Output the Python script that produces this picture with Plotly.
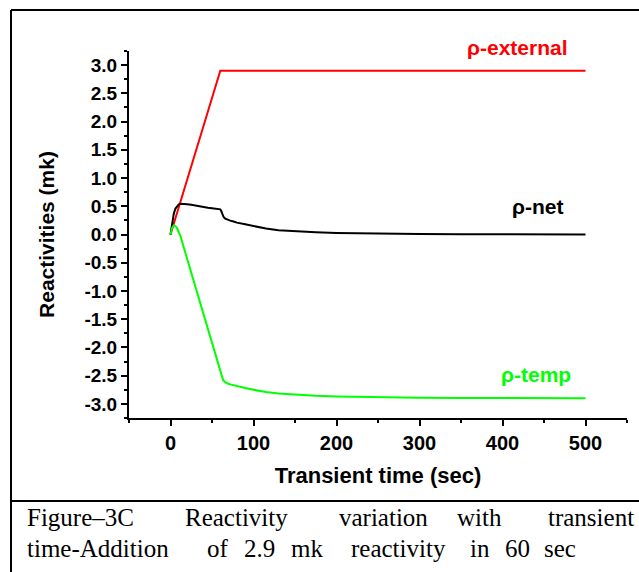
import numpy as np
import plotly.graph_objects as go

# ---------------- data ----------------
t_external = [0, 60, 500]
rho_external = [0.0, 2.9, 2.9]

t_sim = [0, 2, 4, 6, 8, 10, 12, 16, 20, 25,
         30, 35, 40, 45, 50, 55, 60, 61, 62, 63,
         64, 66, 68, 72, 76, 80, 90, 100, 115, 130,
         150, 175, 200, 250, 300, 350, 400, 450, 500]
rho_net = [0.0, 0.22, 0.37, 0.46, 0.51, 0.535, 0.545, 0.545, 0.535, 0.525,
           0.51, 0.50, 0.49, 0.475, 0.465, 0.455, 0.445, 0.42, 0.38, 0.34,
           0.31, 0.28, 0.265, 0.245, 0.23, 0.21, 0.18, 0.15, 0.105, 0.075,
           0.055, 0.04, 0.028, 0.015, 0.008, 0.005, 0.003, 0.002, 0.001]
rho_temp = [0.0, 0.12, 0.16, 0.15, 0.11, 0.05, -0.03, -0.23, -0.43, -0.68,
            -0.93, -1.18, -1.43, -1.69, -1.94, -2.19, -2.44, -2.48, -2.52, -2.56,
            -2.59, -2.62, -2.635, -2.655, -2.67, -2.69, -2.72, -2.75, -2.79, -2.815,
            -2.835, -2.855, -2.868, -2.882, -2.89, -2.895, -2.897, -2.898, -2.9]

x_tick_vals = [0, 100, 200, 300, 400, 500]
x_tick_labels = ["0", "100", "200", "300", "400", "500"]
y_tick_vals = [3.0, 2.5, 2.0, 1.5, 1.0, 0.5, 0.0, -0.5, -1.0, -1.5, -2.0, -2.5, -3.0]
y_tick_labels = ["3.0", "2.5", "2.0", "1.5", "1.0", "0.5", "0.0",
                 "-0.5", "-1.0", "-1.5", "-2.0", "-2.5", "-3.0"]

series_labels = ["ρ-external", "ρ-net", "ρ-temp"]
x_title = "Transient time (sec)"
y_title = "Reactivities (mk)"
caption_line1 = ["Figure–3C", "Reactivity", "variation", "with", "transient"]
caption_line2 = ["time-Addition", "of", "2.9", "mk", "reactivity", "in", "60", "sec"]

# ---------------- layout geometry ----------------
W_PX, H_PX = 639, 572
L, R, T, B = 129, 627, 51, 418
PW, PH = R - L, B - T


def px2x(px):
    return (px - L) / PW


def py2y(py):
    return (B - py) / PH


SANS = "Liberation Sans, Arial, sans-serif"
SERIF = "Liberation Serif, Times New Roman, serif"

fig = go.Figure()
fig.add_trace(go.Scatter(x=t_external, y=rho_external, mode="lines",
                         line=dict(color="#ff0000", width=2), showlegend=False))
fig.add_trace(go.Scatter(x=t_sim, y=rho_net, mode="lines",
                         line=dict(color="#000000", width=2), showlegend=False))
fig.add_trace(go.Scatter(x=t_sim, y=rho_temp, mode="lines",
                         line=dict(color="#00ff00", width=2), showlegend=False))

fig.update_layout(
    width=W_PX, height=H_PX,
    margin=dict(l=L, r=W_PX - R, t=T, b=H_PX - B, pad=0),
    paper_bgcolor="white", plot_bgcolor="white",
    showlegend=False,
)

fig.update_xaxes(
    range=[-50, 550], showgrid=False, zeroline=False,
    showline=True, linecolor="black", linewidth=2, mirror=False,
    ticks="outside", ticklen=6, tickwidth=1.5, tickcolor="black",
    tickmode="array", tickvals=x_tick_vals, ticktext=x_tick_labels,
    tickfont=dict(family=SANS, size=20, color="black", weight="bold"),
    minor=dict(tickmode="array", tickvals=list(np.arange(-50, 551, 100)),
               ticks="outside", ticklen=3, tickwidth=1.5, tickcolor="black"),
    title=dict(text=x_title, standoff=15,
               font=dict(family=SANS, size=22, color="black", weight="bold")),
)
fig.update_yaxes(
    range=[-3.25, 3.25], showgrid=False, zeroline=False,
    showline=True, linecolor="black", linewidth=2, mirror=False,
    ticks="outside", ticklen=6, tickwidth=1.5, tickcolor="black",
    tickmode="array", tickvals=y_tick_vals, ticktext=y_tick_labels,
    tickfont=dict(family=SANS, size=19, color="black", weight="bold"),
    minor=dict(tickmode="array", tickvals=list(np.arange(-3.25, 3.26, 0.5)),
               ticks="outside", ticklen=3, tickwidth=1.5, tickcolor="black"),
    title=dict(text=y_title, standoff=24,
               font=dict(family=SANS, size=21, color="black", weight="bold")),
)

# series labels (x in data units, y in pixels of the page)
label_pos = [(418, 47), (443, 207), (440, 374)]
label_colors = ["#ff0000", "#000000", "#00ff00"]
for txt, (lx, lpy), c in zip(series_labels, label_pos, label_colors):
    fig.add_annotation(x=lx, y=py2y(lpy), xref="x", yref="paper", text=txt,
                       showarrow=False, xanchor="center", yanchor="middle",
                       font=dict(family=SANS, size=21, color=c, weight="bold"))

# frame and divider
frame = dict(type="line", xref="paper", yref="paper",
             line=dict(color="black", width=2))
fig.add_shape(x0=px2x(11), x1=px2x(11), y0=py2y(10), y1=py2y(580), **frame)
fig.add_shape(x0=px2x(11), x1=px2x(645), y0=py2y(10), y1=py2y(10), **frame)
fig.add_shape(x0=px2x(11), x1=px2x(645), y0=py2y(501), y1=py2y(501), **frame)

# caption: first line justified (edges pinned), second line spread like the reference
cap_1 = [(25, "left"), (236, "center"), (383, "center"), (479, "center"), (636, "right")]
cap_2 = [(25, "left"), (218, "center"), (259, "center"), (307, "center"),
         (398, "center"), (480, "center"), (517, "center"), (560, "center")]
for words, pos, yc in ((caption_line1, cap_1, 517), (caption_line2, cap_2, 548)):
    for w, (xpx, anc) in zip(words, pos):
        fig.add_annotation(x=px2x(xpx), y=py2y(yc), xref="paper", yref="paper",
                           text=w, showarrow=False, xanchor=anc, yanchor="middle",
                           font=dict(family=SERIF, size=25, color="black"))

fig.write_html("out.html")
